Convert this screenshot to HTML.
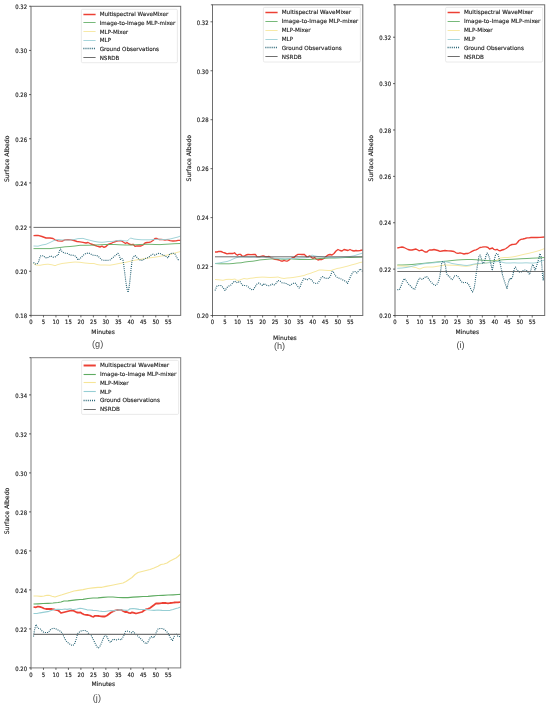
<!DOCTYPE html>
<html lang="en">
<head>
<meta charset="utf-8">
<title>Surface Albedo comparison (g)-(j)</title>
<style>
html,body{margin:0;padding:0;background:#fff;}
body{width:550px;height:707px;overflow:hidden;}
svg{display:block;}
</style>
</head>
<body>
<svg width="550" height="707" viewBox="0 0 550 707" text-rendering="geometricPrecision">
<rect width="550" height="707" fill="#ffffff"/>
<g>
<clipPath id="clipg"><rect x="31.0" y="6.3" width="149.7" height="309.1"/></clipPath>
<g clip-path="url(#clipg)" fill="none" stroke-linejoin="round" stroke-linecap="butt">
<path d="M33.5 235.6 L36.0 235.5 L38.0 235.4 L42.0 236.5 L46.0 238.0 L50.0 238.0 L53.0 238.5 L55.0 239.8 L58.0 240.8 L62.0 241.2 L65.0 239.8 L68.0 239.6 L71.0 239.8 L74.0 240.5 L77.0 241.5 L80.0 241.8 L83.0 242.3 L86.0 243.0 L88.0 242.5 L91.0 244.0 L94.0 245.0 L97.0 246.2 L100.0 247.0 L102.0 246.2 L104.0 247.3 L106.0 246.5 L108.0 244.5 L111.0 243.5 L114.0 242.0 L117.0 241.0 L120.0 240.7 L122.0 241.2 L124.0 242.5 L125.5 243.5 L127.0 242.5 L129.0 244.0 L131.0 244.6 L133.0 244.3 L135.0 246.3 L137.0 245.8 L139.0 246.0 L141.0 246.0 L143.0 245.0 L145.0 243.0 L147.0 242.5 L149.0 242.3 L151.0 241.8 L153.0 240.5 L155.0 238.5 L157.0 238.5 L159.0 239.5 L161.0 239.5 L163.0 239.7 L165.0 240.0 L167.0 239.7 L170.0 240.7 L173.0 241.0 L176.0 240.8 L178.0 240.3 L180.5 240.3" stroke="#ec4034" stroke-width="1.35"/>
<path d="M33.5 248.6 L40.0 248.6 L50.0 248.6 L55.0 248.0 L60.0 247.5 L65.0 246.8 L70.0 246.5 L75.0 246.0 L80.0 245.3 L85.0 245.3 L90.0 245.2 L95.0 245.0 L100.0 244.8 L105.0 244.5 L110.0 244.5 L115.0 244.5 L120.0 244.8 L125.0 245.0 L130.0 245.0 L135.0 244.8 L140.0 244.5 L145.0 244.3 L150.0 244.3 L155.0 244.5 L160.0 244.6 L165.0 244.3 L170.0 244.0 L175.0 243.7 L180.5 243.5" stroke="#5fac62" stroke-width="0.90"/>
<path d="M33.5 263.5 L36.0 265.0 L40.0 265.3 L44.0 264.5 L48.0 264.2 L52.0 264.8 L55.0 265.7 L58.0 264.5 L62.0 263.5 L66.0 263.0 L70.0 262.5 L75.0 262.0 L80.0 262.3 L85.0 263.0 L90.0 263.5 L94.0 263.5 L97.0 264.5 L100.0 265.0 L105.0 265.0 L110.0 265.2 L115.0 264.3 L120.0 263.3 L125.0 262.5 L130.0 261.3 L135.0 260.2 L140.0 259.4 L145.0 258.6 L150.0 257.8 L155.0 257.2 L160.0 256.3 L165.0 255.5 L170.0 254.5 L175.0 253.0 L180.5 251.5" stroke="#f6e597" stroke-width="0.90"/>
<path d="M33.5 246.0 L38.0 246.2 L42.0 245.0 L46.0 244.3 L50.0 242.5 L54.0 240.5 L58.0 239.5 L62.0 240.0 L66.0 240.0 L70.0 240.0 L74.0 239.6 L78.0 238.6 L83.0 238.4 L86.0 239.3 L90.0 240.3 L94.0 241.3 L98.0 242.0 L102.0 242.3 L105.0 242.0 L108.0 241.5 L112.0 241.5 L115.0 241.0 L118.0 240.5 L121.0 240.3 L124.0 240.8 L127.0 241.0 L129.0 239.5 L130.5 238.0 L134.0 239.0 L138.0 239.5 L142.0 239.8 L146.0 239.8 L150.0 239.8 L154.0 239.5 L158.0 239.3 L162.0 239.5 L166.0 239.5 L170.0 239.0 L174.0 238.0 L178.0 237.0 L180.5 236.0" stroke="#96ced4" stroke-width="0.90"/>
<path d="M33.5 262.5 L35.0 264.0 L37.0 264.0 L38.5 262.0 L40.0 257.0 L41.0 255.7 L43.5 255.7 L45.0 257.5 L47.0 258.0 L49.0 257.0 L51.0 255.8 L53.0 257.3 L55.0 257.0 L57.0 255.5 L58.0 255.5 L59.5 251.0 L60.5 249.0 L62.0 251.5 L64.0 253.0 L66.0 253.3 L68.0 253.5 L70.0 255.0 L72.0 255.2 L74.0 255.5 L76.0 256.5 L78.0 260.0 L80.0 258.5 L82.0 256.5 L84.0 254.5 L86.0 253.5 L88.5 253.0 L90.0 253.5 L92.0 255.0 L94.0 255.3 L96.0 255.5 L98.0 256.0 L100.0 258.0 L102.0 260.0 L104.0 260.3 L106.0 260.3 L108.0 260.3 L110.0 260.0 L113.0 257.5 L116.0 255.0 L118.0 253.3 L119.5 256.0 L120.5 259.5 L122.0 258.5 L123.0 260.0 L124.0 267.0 L125.0 275.0 L126.0 283.0 L127.0 289.0 L128.0 292.5 L129.0 288.0 L130.0 280.0 L131.0 270.0 L132.0 261.0 L133.0 257.5 L135.0 255.4 L137.0 257.5 L139.0 259.5 L141.0 260.5 L143.0 260.0 L145.0 258.5 L147.0 258.0 L149.0 257.0 L151.0 255.2 L153.0 254.2 L155.0 255.2 L157.0 254.0 L159.0 253.2 L161.0 253.8 L163.0 255.2 L165.0 255.8 L167.0 257.0 L168.0 258.0 L169.5 254.5 L171.0 253.5 L173.0 253.2 L175.0 254.0 L176.5 257.0 L178.0 259.5 L179.5 260.5" stroke="#1d5c6e" stroke-width="1.15" stroke-dasharray="0.95 1.15"/>
<path d="M33.5 227.4 L180.7 227.4" stroke="#4a4a4a" stroke-width="0.80"/>
</g>
<rect x="31.00" y="6.30" width="149.70" height="309.10" fill="none" stroke="#6e6e6e" stroke-width="1.00"/>
<path d="M31.00 315.40 h-2 M31.00 271.24 h-2 M31.00 227.08 h-2 M31.00 182.92 h-2 M31.00 138.76 h-2 M31.00 94.60 h-2 M31.00 50.44 h-2 M31.00 6.28 h-2 M31.00 315.40 v2 M43.47 315.40 v2 M55.95 315.40 v2 M68.42 315.40 v2 M80.90 315.40 v2 M93.38 315.40 v2 M105.85 315.40 v2 M118.32 315.40 v2 M130.80 315.40 v2 M143.27 315.40 v2 M155.75 315.40 v2 M168.22 315.40 v2" stroke="#2a2a2a" stroke-width="0.7" fill="none"/>
<g font-family="'DejaVu Sans','Liberation Sans',sans-serif" font-size="5.30" fill="#1e1e1e" stroke="#1e1e1e" stroke-width="0.14">
<text transform="translate(27.10 318.15) scale(1 1.13)" text-anchor="end">0.18</text>
<text transform="translate(27.10 273.99) scale(1 1.13)" text-anchor="end">0.20</text>
<text transform="translate(27.10 229.83) scale(1 1.13)" text-anchor="end">0.22</text>
<text transform="translate(27.10 185.67) scale(1 1.13)" text-anchor="end">0.24</text>
<text transform="translate(27.10 141.51) scale(1 1.13)" text-anchor="end">0.26</text>
<text transform="translate(27.10 97.35) scale(1 1.13)" text-anchor="end">0.28</text>
<text transform="translate(27.10 53.19) scale(1 1.13)" text-anchor="end">0.30</text>
<text transform="translate(27.10 9.03) scale(1 1.13)" text-anchor="end">0.32</text>
<text transform="translate(31.00 324.15) scale(1 1.13)" text-anchor="middle">0</text>
<text transform="translate(43.47 324.15) scale(1 1.13)" text-anchor="middle">5</text>
<text transform="translate(55.95 324.15) scale(1 1.13)" text-anchor="middle">10</text>
<text transform="translate(68.42 324.15) scale(1 1.13)" text-anchor="middle">15</text>
<text transform="translate(80.90 324.15) scale(1 1.13)" text-anchor="middle">20</text>
<text transform="translate(93.38 324.15) scale(1 1.13)" text-anchor="middle">25</text>
<text transform="translate(105.85 324.15) scale(1 1.13)" text-anchor="middle">30</text>
<text transform="translate(118.32 324.15) scale(1 1.13)" text-anchor="middle">35</text>
<text transform="translate(130.80 324.15) scale(1 1.13)" text-anchor="middle">40</text>
<text transform="translate(143.27 324.15) scale(1 1.13)" text-anchor="middle">45</text>
<text transform="translate(155.75 324.15) scale(1 1.13)" text-anchor="middle">50</text>
<text transform="translate(168.22 324.15) scale(1 1.13)" text-anchor="middle">55</text>
</g>
<g font-family="'DejaVu Sans','Liberation Sans',sans-serif" font-size="6.00" fill="#1e1e1e" stroke="#1e1e1e" stroke-width="0.14">
<text x="103.10" y="333.50" text-anchor="middle">Minutes</text>
<text transform="translate(8.60 158.80) rotate(-90)" text-anchor="middle" font-size="6.15">Surface Albedo</text>
</g>
<text x="97.60" y="347.20" text-anchor="middle" font-family="'Liberation Sans','DejaVu Sans',sans-serif" font-size="9.2" fill="#4a4a4a">(g)</text>
<rect x="81.40" y="9.30" width="96.00" height="53.40" rx="1.2" fill="#fff" fill-opacity="0.8" stroke="#d8d8d8" stroke-width="0.55"/>
<g font-family="'DejaVu Sans','Liberation Sans',sans-serif" font-size="5.60" fill="#1e1e1e" stroke="#1e1e1e" stroke-width="0.14">
<path d="M83.40 14.50 h12.2" stroke="#ec4034" stroke-width="1.50" fill="none"/>
<text x="99.70" y="16.30">Multispectral WaveMixer</text>
<path d="M83.40 22.50 h12.2" stroke="#5fac62" stroke-width="0.85" fill="none"/>
<text x="99.70" y="24.94">Image-to-Image MLP-mixer</text>
<path d="M83.40 31.50 h12.2" stroke="#f6e597" stroke-width="0.85" fill="none"/>
<text x="99.70" y="33.58">MLP-Mixer</text>
<path d="M83.40 40.50 h12.2" stroke="#96ced4" stroke-width="0.85" fill="none"/>
<text x="99.70" y="42.22">MLP</text>
<path d="M83.40 48.50 h12.2" stroke="#1d5c6e" stroke-width="1.30" stroke-dasharray="0.95 1.15" fill="none"/>
<text x="99.70" y="50.86">Ground Observations</text>
<path d="M83.40 57.50 h12.2" stroke="#4a4a4a" stroke-width="0.80" fill="none"/>
<text x="99.70" y="59.50">NSRDB</text>
</g>
</g>
<g>
<clipPath id="cliph"><rect x="212.5" y="4.8" width="150.3" height="310.7"/></clipPath>
<g clip-path="url(#cliph)" fill="none" stroke-linejoin="round" stroke-linecap="butt">
<path d="M215.0 252.0 L217.0 252.0 L219.0 251.3 L221.0 251.5 L223.0 252.3 L225.0 253.0 L227.0 253.8 L229.0 253.5 L231.0 253.3 L233.0 253.5 L234.5 252.8 L236.0 254.3 L237.5 255.3 L239.0 254.3 L240.5 254.3 L242.0 256.0 L244.0 256.3 L246.0 255.0 L248.0 254.5 L251.0 254.7 L254.0 254.5 L255.5 254.5 L257.0 256.8 L259.0 256.8 L261.0 256.3 L263.0 255.8 L265.0 256.5 L267.0 257.0 L269.0 256.5 L271.0 257.8 L273.0 258.5 L275.0 259.3 L277.0 259.5 L279.0 260.0 L281.0 261.0 L282.5 261.2 L284.0 260.3 L285.5 260.8 L287.0 261.2 L288.5 260.5 L290.0 259.0 L292.0 258.0 L294.0 257.5 L296.0 255.5 L298.0 254.3 L300.0 254.3 L302.0 254.5 L304.0 254.3 L305.5 255.5 L307.0 257.3 L308.5 256.5 L310.0 255.9 L311.5 257.5 L313.0 258.5 L314.5 257.5 L316.0 259.0 L318.0 260.0 L320.0 259.3 L322.0 259.5 L324.0 258.5 L326.0 256.5 L328.0 255.0 L330.0 254.5 L332.0 255.0 L334.0 253.5 L336.0 251.0 L338.0 249.5 L340.0 250.5 L342.0 251.0 L344.0 249.5 L346.0 250.0 L348.0 250.5 L350.0 249.5 L352.0 250.5 L354.0 251.0 L356.0 250.5 L358.0 250.8 L360.0 250.5 L362.8 250.0" stroke="#ec4034" stroke-width="1.35"/>
<path d="M215.0 263.5 L220.0 263.8 L225.0 263.8 L229.0 263.8 L233.0 263.5 L237.0 263.0 L241.0 262.8 L245.0 262.0 L249.0 261.5 L253.0 261.2 L257.0 260.5 L260.0 259.9 L265.0 259.5 L270.0 259.0 L275.0 258.8 L280.0 259.0 L285.0 259.3 L290.0 258.8 L295.0 259.2 L300.0 259.5 L305.0 259.5 L310.0 259.5 L315.0 259.0 L320.0 258.5 L325.0 258.3 L330.0 258.0 L335.0 258.0 L340.0 257.8 L345.0 257.5 L350.0 257.5 L355.0 257.3 L362.8 257.0" stroke="#5fac62" stroke-width="0.90"/>
<path d="M215.0 279.5 L219.0 279.8 L223.0 280.3 L226.0 279.5 L229.0 279.3 L232.0 279.5 L235.0 279.0 L237.0 280.3 L239.0 280.3 L241.0 279.5 L244.0 278.5 L247.0 279.0 L250.0 278.3 L253.0 278.0 L256.0 277.5 L259.0 277.3 L262.0 277.1 L265.0 277.2 L270.0 277.5 L275.0 277.3 L278.0 277.0 L281.0 278.0 L284.0 278.5 L287.0 278.0 L290.0 277.8 L293.0 277.5 L296.0 277.0 L300.0 276.3 L304.0 275.5 L307.0 274.3 L310.0 273.5 L313.0 272.3 L316.0 271.3 L319.0 270.0 L322.0 270.0 L325.0 270.3 L328.0 270.5 L331.0 270.5 L334.0 269.5 L337.0 268.5 L340.0 268.0 L344.0 267.0 L348.0 266.0 L352.0 264.8 L356.0 263.8 L360.0 262.5 L362.8 262.0" stroke="#f6e597" stroke-width="0.90"/>
<path d="M215.0 263.5 L219.0 263.0 L223.0 262.2 L227.0 261.5 L230.0 260.5 L233.0 259.0 L236.0 257.8 L239.0 257.0 L242.0 256.8 L246.0 257.0 L250.0 257.2 L254.0 257.0 L258.0 257.3 L262.0 257.0 L265.0 257.2 L270.0 257.8 L275.0 258.3 L280.0 258.5 L285.0 258.8 L290.0 258.5 L295.0 258.5 L300.0 258.0 L305.0 257.8 L308.0 257.5 L310.0 256.5 L312.0 255.0 L314.0 255.8 L318.0 256.5 L322.0 256.8 L326.0 257.5 L330.0 257.8 L335.0 257.5 L340.0 257.3 L345.0 257.0 L350.0 256.5 L354.0 255.8 L358.0 254.5 L362.8 253.0" stroke="#96ced4" stroke-width="0.90"/>
<path d="M215.0 290.5 L217.0 286.0 L219.0 285.5 L221.0 285.5 L223.0 287.5 L225.0 290.5 L227.0 287.5 L229.0 286.0 L231.0 285.0 L233.0 282.5 L234.5 281.0 L236.0 282.0 L237.5 283.0 L239.0 281.5 L240.0 281.5 L241.5 284.0 L243.0 285.5 L245.0 285.5 L247.0 286.0 L249.0 287.5 L251.0 289.5 L253.0 290.0 L255.0 287.0 L257.0 284.0 L259.0 283.0 L261.0 284.5 L262.5 285.5 L264.0 283.5 L266.0 285.0 L268.0 285.8 L270.0 285.5 L272.0 284.0 L274.0 285.0 L276.0 283.5 L278.0 280.5 L280.0 281.0 L282.0 282.8 L284.0 283.0 L286.0 283.5 L288.0 284.5 L290.0 285.5 L292.0 284.0 L294.0 283.0 L295.5 283.3 L297.0 285.5 L299.0 288.0 L300.0 287.5 L301.0 284.0 L302.5 281.0 L304.0 278.5 L305.5 279.0 L307.0 280.0 L309.0 278.5 L311.0 279.5 L312.0 280.5 L314.0 283.0 L316.0 283.5 L318.0 283.0 L320.0 280.0 L321.5 277.0 L323.0 276.5 L324.5 278.0 L327.0 278.5 L329.0 278.3 L330.5 276.0 L332.0 271.5 L333.0 271.3 L334.5 274.0 L336.0 276.5 L338.0 278.0 L340.0 278.3 L342.0 279.5 L344.0 280.5 L346.0 281.5 L347.5 283.5 L349.0 280.0 L351.0 275.5 L353.0 272.0 L355.0 271.5 L357.0 273.0 L358.5 271.0 L360.0 269.0 L362.0 270.5 L362.8 272.0" stroke="#1d5c6e" stroke-width="1.15" stroke-dasharray="0.95 1.15"/>
<path d="M215.0 256.8 L362.8 256.8" stroke="#4a4a4a" stroke-width="0.80"/>
</g>
<rect x="212.50" y="4.80" width="150.30" height="310.70" fill="none" stroke="#6e6e6e" stroke-width="1.00"/>
<path d="M212.50 315.50 h-2 M212.50 266.55 h-2 M212.50 217.60 h-2 M212.50 168.65 h-2 M212.50 119.70 h-2 M212.50 70.75 h-2 M212.50 21.80 h-2 M212.50 315.50 v2 M225.03 315.50 v2 M237.55 315.50 v2 M250.07 315.50 v2 M262.60 315.50 v2 M275.12 315.50 v2 M287.65 315.50 v2 M300.18 315.50 v2 M312.70 315.50 v2 M325.23 315.50 v2 M337.75 315.50 v2 M350.27 315.50 v2 M212.50 4.80 h-1.6" stroke="#2a2a2a" stroke-width="0.7" fill="none"/>
<g font-family="'DejaVu Sans','Liberation Sans',sans-serif" font-size="5.30" fill="#1e1e1e" stroke="#1e1e1e" stroke-width="0.14">
<text transform="translate(208.60 318.25) scale(1 1.13)" text-anchor="end">0.20</text>
<text transform="translate(208.60 269.30) scale(1 1.13)" text-anchor="end">0.22</text>
<text transform="translate(208.60 220.35) scale(1 1.13)" text-anchor="end">0.24</text>
<text transform="translate(208.60 171.40) scale(1 1.13)" text-anchor="end">0.26</text>
<text transform="translate(208.60 122.45) scale(1 1.13)" text-anchor="end">0.28</text>
<text transform="translate(208.60 73.50) scale(1 1.13)" text-anchor="end">0.30</text>
<text transform="translate(208.60 24.55) scale(1 1.13)" text-anchor="end">0.32</text>
<text transform="translate(212.50 324.25) scale(1 1.13)" text-anchor="middle">0</text>
<text transform="translate(225.03 324.25) scale(1 1.13)" text-anchor="middle">5</text>
<text transform="translate(237.55 324.25) scale(1 1.13)" text-anchor="middle">10</text>
<text transform="translate(250.07 324.25) scale(1 1.13)" text-anchor="middle">15</text>
<text transform="translate(262.60 324.25) scale(1 1.13)" text-anchor="middle">20</text>
<text transform="translate(275.12 324.25) scale(1 1.13)" text-anchor="middle">25</text>
<text transform="translate(287.65 324.25) scale(1 1.13)" text-anchor="middle">30</text>
<text transform="translate(300.18 324.25) scale(1 1.13)" text-anchor="middle">35</text>
<text transform="translate(312.70 324.25) scale(1 1.13)" text-anchor="middle">40</text>
<text transform="translate(325.23 324.25) scale(1 1.13)" text-anchor="middle">45</text>
<text transform="translate(337.75 324.25) scale(1 1.13)" text-anchor="middle">50</text>
<text transform="translate(350.27 324.25) scale(1 1.13)" text-anchor="middle">55</text>
</g>
<g font-family="'DejaVu Sans','Liberation Sans',sans-serif" font-size="6.00" fill="#1e1e1e" stroke="#1e1e1e" stroke-width="0.14">
<text x="284.90" y="339.80" text-anchor="middle">Minutes</text>
<text transform="translate(190.50 158.20) rotate(-90)" text-anchor="middle" font-size="6.15">Surface Albedo</text>
</g>
<text x="279.50" y="348.50" text-anchor="middle" font-family="'Liberation Sans','DejaVu Sans',sans-serif" font-size="9.2" fill="#4a4a4a">(h)</text>
<rect x="263.40" y="7.40" width="97.00" height="54.60" rx="1.2" fill="#fff" fill-opacity="0.8" stroke="#d8d8d8" stroke-width="0.55"/>
<g font-family="'DejaVu Sans','Liberation Sans',sans-serif" font-size="5.66" fill="#1e1e1e" stroke="#1e1e1e" stroke-width="0.14">
<path d="M265.40 12.50 h12.2" stroke="#ec4034" stroke-width="1.50" fill="none"/>
<text x="281.70" y="14.40">Multispectral WaveMixer</text>
<path d="M265.40 21.50 h12.2" stroke="#5fac62" stroke-width="0.85" fill="none"/>
<text x="281.70" y="23.28">Image-to-Image MLP-mixer</text>
<path d="M265.40 30.50 h12.2" stroke="#f6e597" stroke-width="0.85" fill="none"/>
<text x="281.70" y="32.16">MLP-Mixer</text>
<path d="M265.40 39.50 h12.2" stroke="#96ced4" stroke-width="0.85" fill="none"/>
<text x="281.70" y="41.04">MLP</text>
<path d="M265.40 47.50 h12.2" stroke="#1d5c6e" stroke-width="1.30" stroke-dasharray="0.95 1.15" fill="none"/>
<text x="281.70" y="49.92">Ground Observations</text>
<path d="M265.40 56.50 h12.2" stroke="#4a4a4a" stroke-width="0.80" fill="none"/>
<text x="281.70" y="58.80">NSRDB</text>
</g>
</g>
<g>
<clipPath id="clipi"><rect x="395.0" y="4.8" width="149.7" height="310.7"/></clipPath>
<g clip-path="url(#clipi)" fill="none" stroke-linejoin="round" stroke-linecap="butt">
<path d="M397.3 248.0 L400.0 247.3 L402.0 247.0 L404.0 247.5 L406.0 248.5 L408.0 249.5 L410.0 250.0 L412.0 250.0 L414.0 249.5 L416.0 249.0 L417.5 249.8 L419.0 250.8 L420.5 250.3 L422.0 250.0 L423.5 251.0 L425.0 252.0 L427.0 252.0 L428.5 250.5 L430.0 249.8 L432.0 250.0 L434.0 249.5 L436.0 250.0 L438.0 250.5 L440.0 251.3 L442.0 251.0 L445.0 250.5 L448.0 250.8 L451.0 251.0 L454.0 251.5 L456.0 252.8 L458.0 253.3 L460.0 252.8 L462.0 253.3 L464.0 254.0 L466.0 253.5 L468.0 253.5 L470.0 252.5 L472.0 251.3 L474.0 250.3 L476.0 249.8 L478.0 248.8 L480.0 247.5 L482.0 247.2 L484.0 246.8 L486.0 246.8 L488.0 247.5 L489.5 249.0 L491.0 248.5 L492.5 248.0 L494.0 249.4 L495.5 249.8 L497.0 249.3 L498.5 250.3 L500.0 250.8 L502.0 250.0 L504.0 249.5 L506.0 248.5 L508.0 247.0 L510.0 245.3 L512.0 244.5 L514.0 244.3 L516.0 244.0 L517.5 242.5 L519.0 240.5 L521.0 239.3 L523.0 239.0 L525.0 238.5 L527.0 237.8 L529.0 237.8 L531.0 237.5 L533.0 237.3 L535.0 237.5 L537.0 237.5 L540.0 237.3 L544.7 237.0" stroke="#ec4034" stroke-width="1.35"/>
<path d="M397.3 265.0 L402.0 265.0 L407.0 264.8 L412.0 264.5 L417.0 264.0 L422.0 263.5 L427.0 263.0 L432.0 262.5 L437.0 262.0 L442.0 261.5 L447.0 261.1 L452.0 260.5 L457.0 260.0 L462.0 259.7 L467.0 259.5 L472.0 259.5 L477.0 259.8 L482.0 260.2 L487.0 260.5 L492.0 260.8 L497.0 260.4 L502.0 259.8 L507.0 259.5 L512.0 259.3 L517.0 259.0 L522.0 258.7 L527.0 258.5 L532.0 258.2 L537.0 258.0 L544.7 257.5" stroke="#5fac62" stroke-width="0.90"/>
<path d="M397.3 265.8 L402.0 266.0 L407.0 266.3 L411.0 266.5 L414.0 267.3 L416.0 267.5 L418.0 268.5 L420.0 269.0 L422.0 268.0 L424.0 267.3 L427.0 267.0 L430.0 267.0 L433.0 267.0 L436.0 266.5 L439.0 266.0 L442.0 265.5 L446.0 265.0 L450.0 265.2 L454.0 265.3 L458.0 265.5 L462.0 266.0 L466.0 266.3 L470.0 265.8 L474.0 264.5 L478.0 264.0 L482.0 263.5 L486.0 263.0 L490.0 262.5 L494.0 261.6 L497.0 260.8 L500.0 258.0 L504.0 257.5 L508.0 257.5 L512.0 257.0 L516.0 256.3 L520.0 255.3 L524.0 254.3 L528.0 253.5 L532.0 252.5 L536.0 251.5 L540.0 250.3 L544.7 248.5" stroke="#f6e597" stroke-width="0.90"/>
<path d="M397.3 268.3 L402.0 268.0 L406.0 267.5 L410.0 266.8 L414.0 265.8 L418.0 264.8 L422.0 264.0 L426.0 263.5 L430.0 263.0 L434.0 262.8 L438.0 262.3 L442.0 261.7 L446.0 261.8 L449.0 262.5 L452.0 263.5 L455.0 264.0 L458.0 264.5 L461.0 264.8 L464.0 265.3 L467.0 265.5 L470.0 265.0 L473.0 264.3 L476.0 263.8 L479.0 263.5 L482.0 263.3 L486.0 263.0 L490.0 262.5 L494.0 262.0 L497.0 261.5 L500.0 261.5 L503.0 262.5 L506.0 263.0 L510.0 263.0 L514.0 262.8 L518.0 263.0 L522.0 263.0 L526.0 262.8 L530.0 263.0 L534.0 263.0 L537.0 262.5 L540.0 261.5 L544.7 260.0" stroke="#96ced4" stroke-width="0.90"/>
<path d="M397.3 289.8 L399.5 289.5 L401.0 286.0 L403.0 281.0 L404.5 278.5 L406.0 280.5 L408.0 283.5 L410.0 285.5 L412.0 287.5 L414.0 289.5 L415.0 289.0 L416.5 285.0 L418.0 281.0 L419.5 278.0 L421.0 278.8 L422.5 279.5 L424.0 278.0 L426.0 276.5 L427.5 277.0 L429.0 279.5 L431.0 282.0 L433.0 284.0 L435.0 285.5 L436.5 285.0 L438.0 282.5 L439.5 278.0 L440.5 272.0 L441.5 264.0 L442.5 261.5 L443.5 262.0 L444.5 262.5 L445.5 266.0 L446.5 273.0 L447.5 275.5 L449.0 276.0 L450.5 278.0 L452.0 280.0 L453.0 279.0 L454.5 276.0 L456.0 275.5 L457.5 276.0 L459.0 278.0 L461.0 281.0 L462.5 282.8 L464.0 282.5 L466.0 282.5 L468.0 283.5 L469.5 286.0 L471.0 289.5 L472.5 292.0 L474.0 289.0 L475.0 283.0 L476.0 275.0 L477.0 268.0 L478.0 262.0 L479.0 256.5 L480.0 255.0 L481.0 257.5 L482.5 263.0 L483.5 263.5 L485.0 260.0 L486.0 255.5 L487.0 253.0 L488.0 254.0 L489.5 258.0 L490.5 262.0 L491.5 267.0 L492.3 270.5 L493.3 265.0 L494.5 259.0 L495.5 255.0 L496.5 253.5 L497.5 253.5 L498.5 256.0 L499.5 260.0 L500.5 265.0 L501.5 270.0 L502.5 275.0 L504.0 280.0 L505.5 284.5 L507.0 288.5 L508.0 284.0 L509.0 280.5 L510.0 278.5 L511.0 279.5 L512.5 277.0 L513.5 272.0 L514.5 268.5 L515.5 267.0 L516.5 269.0 L518.0 271.0 L520.0 272.5 L522.0 271.5 L524.0 270.0 L526.0 270.0 L528.0 272.0 L529.5 274.5 L531.0 270.0 L532.0 265.5 L533.0 264.5 L534.0 267.0 L535.0 270.0 L536.0 268.0 L537.5 263.0 L539.0 258.0 L540.0 253.5 L541.0 256.0 L541.8 265.0 L542.5 275.0 L543.2 280.0 L544.0 273.0 L544.7 270.0" stroke="#1d5c6e" stroke-width="1.15" stroke-dasharray="0.95 1.15"/>
<path d="M397.3 271.5 L544.7 271.5" stroke="#4a4a4a" stroke-width="0.80"/>
</g>
<rect x="395.00" y="4.80" width="149.70" height="310.70" fill="none" stroke="#6e6e6e" stroke-width="1.00"/>
<path d="M395.00 315.50 h-2 M395.00 269.12 h-2 M395.00 222.74 h-2 M395.00 176.36 h-2 M395.00 129.98 h-2 M395.00 83.60 h-2 M395.00 37.22 h-2 M395.00 315.50 v2 M407.48 315.50 v2 M419.95 315.50 v2 M432.43 315.50 v2 M444.90 315.50 v2 M457.38 315.50 v2 M469.85 315.50 v2 M482.33 315.50 v2 M494.80 315.50 v2 M507.28 315.50 v2 M519.75 315.50 v2 M532.23 315.50 v2 M395.00 4.80 h-1.6" stroke="#2a2a2a" stroke-width="0.7" fill="none"/>
<g font-family="'DejaVu Sans','Liberation Sans',sans-serif" font-size="5.30" fill="#1e1e1e" stroke="#1e1e1e" stroke-width="0.14">
<text transform="translate(391.10 318.25) scale(1 1.13)" text-anchor="end">0.20</text>
<text transform="translate(391.10 271.87) scale(1 1.13)" text-anchor="end">0.22</text>
<text transform="translate(391.10 225.49) scale(1 1.13)" text-anchor="end">0.24</text>
<text transform="translate(391.10 179.11) scale(1 1.13)" text-anchor="end">0.26</text>
<text transform="translate(391.10 132.73) scale(1 1.13)" text-anchor="end">0.28</text>
<text transform="translate(391.10 86.35) scale(1 1.13)" text-anchor="end">0.30</text>
<text transform="translate(391.10 39.97) scale(1 1.13)" text-anchor="end">0.32</text>
<text transform="translate(395.00 324.25) scale(1 1.13)" text-anchor="middle">0</text>
<text transform="translate(407.48 324.25) scale(1 1.13)" text-anchor="middle">5</text>
<text transform="translate(419.95 324.25) scale(1 1.13)" text-anchor="middle">10</text>
<text transform="translate(432.43 324.25) scale(1 1.13)" text-anchor="middle">15</text>
<text transform="translate(444.90 324.25) scale(1 1.13)" text-anchor="middle">20</text>
<text transform="translate(457.38 324.25) scale(1 1.13)" text-anchor="middle">25</text>
<text transform="translate(469.85 324.25) scale(1 1.13)" text-anchor="middle">30</text>
<text transform="translate(482.33 324.25) scale(1 1.13)" text-anchor="middle">35</text>
<text transform="translate(494.80 324.25) scale(1 1.13)" text-anchor="middle">40</text>
<text transform="translate(507.28 324.25) scale(1 1.13)" text-anchor="middle">45</text>
<text transform="translate(519.75 324.25) scale(1 1.13)" text-anchor="middle">50</text>
<text transform="translate(532.23 324.25) scale(1 1.13)" text-anchor="middle">55</text>
</g>
<g font-family="'DejaVu Sans','Liberation Sans',sans-serif" font-size="6.00" fill="#1e1e1e" stroke="#1e1e1e" stroke-width="0.14">
<text x="467.25" y="333.50" text-anchor="middle">Minutes</text>
<text transform="translate(372.50 158.20) rotate(-90)" text-anchor="middle" font-size="6.15">Surface Albedo</text>
</g>
<text x="460.50" y="348.00" text-anchor="middle" font-family="'Liberation Sans','DejaVu Sans',sans-serif" font-size="9.2" fill="#4a4a4a">(i)</text>
<rect x="445.60" y="7.40" width="97.00" height="54.60" rx="1.2" fill="#fff" fill-opacity="0.8" stroke="#d8d8d8" stroke-width="0.55"/>
<g font-family="'DejaVu Sans','Liberation Sans',sans-serif" font-size="5.66" fill="#1e1e1e" stroke="#1e1e1e" stroke-width="0.14">
<path d="M447.60 12.50 h12.2" stroke="#ec4034" stroke-width="1.50" fill="none"/>
<text x="463.90" y="14.40">Multispectral WaveMixer</text>
<path d="M447.60 21.50 h12.2" stroke="#5fac62" stroke-width="0.85" fill="none"/>
<text x="463.90" y="23.28">Image-to-Image MLP-mixer</text>
<path d="M447.60 30.50 h12.2" stroke="#f6e597" stroke-width="0.85" fill="none"/>
<text x="463.90" y="32.16">MLP-Mixer</text>
<path d="M447.60 39.50 h12.2" stroke="#96ced4" stroke-width="0.85" fill="none"/>
<text x="463.90" y="41.04">MLP</text>
<path d="M447.60 47.50 h12.2" stroke="#1d5c6e" stroke-width="1.30" stroke-dasharray="0.95 1.15" fill="none"/>
<text x="463.90" y="49.92">Ground Observations</text>
<path d="M447.60 56.50 h12.2" stroke="#4a4a4a" stroke-width="0.80" fill="none"/>
<text x="463.90" y="58.80">NSRDB</text>
</g>
</g>
<g>
<clipPath id="clipj"><rect x="31.0" y="357.7" width="149.7" height="310.2"/></clipPath>
<g clip-path="url(#clipj)" fill="none" stroke-linejoin="round" stroke-linecap="butt">
<path d="M33.5 607.0 L36.0 607.3 L38.0 606.5 L40.0 606.8 L42.0 607.5 L44.0 608.5 L46.0 609.0 L48.0 609.0 L50.0 609.0 L52.0 609.0 L54.0 609.3 L56.0 610.0 L58.0 610.3 L59.5 611.5 L61.0 613.0 L63.0 612.5 L65.0 612.0 L67.0 611.5 L69.0 611.0 L71.0 610.5 L73.0 610.5 L75.0 611.5 L77.0 612.5 L79.0 612.6 L80.5 612.4 L82.0 613.5 L84.0 614.5 L86.0 614.8 L88.0 615.0 L90.0 615.5 L92.0 616.5 L93.5 616.8 L95.0 615.8 L97.0 615.8 L99.0 616.0 L101.0 616.3 L103.0 616.5 L105.0 616.5 L107.0 615.5 L109.0 614.0 L111.0 612.5 L113.0 611.5 L115.0 610.5 L117.0 610.0 L119.0 609.8 L121.0 609.8 L123.0 611.0 L125.0 612.0 L127.0 612.0 L129.0 613.0 L130.5 613.2 L132.0 612.3 L134.0 612.8 L136.0 613.5 L138.0 613.0 L140.0 612.5 L142.0 612.0 L144.0 610.5 L146.0 609.3 L148.0 608.8 L150.0 608.0 L152.0 606.5 L154.0 605.0 L156.0 603.3 L158.0 603.5 L160.0 603.3 L162.0 603.0 L164.0 602.8 L166.0 603.0 L168.0 603.3 L170.0 603.0 L172.0 602.8 L174.0 602.5 L176.0 602.3 L178.0 602.3 L180.7 602.0" stroke="#ec4034" stroke-width="1.76"/>
<path d="M33.5 604.0 L38.0 603.8 L43.0 603.5 L48.0 603.3 L53.0 603.0 L58.0 602.5 L61.0 602.0 L64.0 601.0 L68.0 600.8 L72.0 600.3 L76.0 599.8 L80.0 599.5 L83.0 599.4 L88.0 598.5 L93.0 598.0 L98.0 597.8 L103.0 597.3 L108.0 597.0 L113.0 597.0 L118.0 597.5 L123.0 597.7 L128.0 597.7 L133.0 597.2 L138.0 596.8 L143.0 596.5 L148.0 596.3 L153.0 595.8 L158.0 595.5 L163.0 595.3 L168.0 595.0 L173.0 594.8 L178.0 594.5 L180.7 594.3" stroke="#5fac62" stroke-width="1.17"/>
<path d="M33.5 596.0 L37.0 596.0 L41.0 596.3 L44.0 596.0 L47.0 595.3 L49.0 595.3 L52.0 596.3 L55.0 597.0 L58.0 596.0 L62.0 594.8 L66.0 593.5 L70.0 592.3 L74.0 591.0 L78.0 590.3 L83.0 589.6 L88.0 588.5 L93.0 587.8 L98.0 587.3 L102.0 587.3 L106.0 586.4 L112.0 585.2 L118.0 584.0 L123.0 583.0 L126.0 581.5 L129.0 579.5 L132.0 577.5 L135.0 574.5 L138.0 572.5 L142.0 571.5 L146.0 570.5 L150.0 569.5 L154.0 568.0 L158.0 566.3 L161.0 564.5 L164.0 564.0 L167.0 563.0 L170.0 561.0 L173.0 559.5 L176.0 558.0 L178.0 556.5 L180.7 554.0" stroke="#f6e597" stroke-width="1.17"/>
<path d="M33.5 613.5 L37.0 613.5 L40.0 612.8 L43.0 612.3 L46.0 611.8 L49.0 611.3 L52.0 610.3 L55.0 609.5 L58.0 609.3 L62.0 609.5 L65.0 609.0 L67.0 609.3 L70.0 608.8 L72.0 609.3 L74.0 609.5 L77.0 609.0 L80.0 608.3 L82.0 608.5 L84.0 609.0 L87.0 609.8 L90.0 610.0 L93.0 610.3 L96.0 610.5 L99.0 611.0 L102.0 611.3 L105.0 611.5 L108.0 611.0 L111.0 610.5 L114.0 610.8 L117.0 610.0 L120.0 609.8 L123.0 610.0 L126.0 610.3 L128.5 610.0 L130.0 608.8 L133.0 608.5 L136.0 608.8 L139.0 609.3 L142.0 609.5 L146.0 609.5 L150.0 610.0 L154.0 610.3 L158.0 610.0 L162.0 610.3 L166.0 610.5 L170.0 610.3 L173.0 609.5 L176.0 608.5 L178.0 608.0 L180.7 607.0" stroke="#96ced4" stroke-width="1.17"/>
<path d="M33.5 636.5 L34.5 630.0 L36.0 624.5 L37.5 628.0 L39.0 628.5 L40.5 629.0 L42.0 631.0 L44.0 632.5 L46.0 632.5 L48.0 632.5 L49.5 631.0 L51.0 629.0 L53.0 628.3 L55.0 628.5 L57.0 629.5 L59.0 630.5 L61.0 631.5 L62.5 634.0 L64.0 637.0 L65.5 640.0 L67.0 642.0 L69.0 643.5 L71.0 645.0 L73.0 645.5 L74.5 644.0 L76.0 640.0 L77.0 636.0 L78.0 633.0 L79.5 632.0 L81.0 631.0 L83.0 630.5 L85.0 630.5 L87.0 631.5 L89.0 634.0 L91.0 635.0 L92.5 638.0 L94.0 641.0 L95.5 644.0 L97.0 647.0 L98.5 648.0 L100.0 646.0 L101.5 643.0 L103.0 639.0 L104.5 636.0 L106.0 635.0 L107.5 638.0 L109.0 641.0 L110.5 642.5 L112.0 640.5 L113.5 639.0 L115.0 640.0 L117.0 639.8 L119.0 639.0 L121.0 640.0 L122.5 638.0 L124.0 635.0 L125.5 631.5 L127.0 631.0 L129.0 631.5 L131.5 632.8 L133.0 631.5 L134.5 633.0 L136.0 634.5 L138.0 636.3 L140.0 638.0 L142.0 640.0 L144.0 642.0 L146.0 643.8 L147.5 643.0 L149.0 640.0 L150.5 637.0 L152.0 636.5 L153.5 638.0 L155.0 635.5 L156.5 632.0 L158.0 629.0 L160.0 628.5 L162.0 628.5 L164.0 629.3 L166.0 631.0 L168.0 633.0 L169.5 636.0 L171.0 639.0 L172.5 640.5 L174.0 637.0 L175.5 633.5 L176.5 634.5 L178.0 636.5 L179.5 636.5 L180.7 637.0" stroke="#1d5c6e" stroke-width="1.15" stroke-dasharray="0.95 1.15"/>
<path d="M33.5 634.4 L180.7 634.4" stroke="#747474" stroke-width="1.30"/>
</g>
<rect x="31.00" y="357.70" width="149.70" height="310.20" fill="none" stroke="#7c7c7c" stroke-width="1.00"/>
<path d="M31.00 667.90 h-2 M31.00 628.90 h-2 M31.00 589.90 h-2 M31.00 550.90 h-2 M31.00 511.90 h-2 M31.00 472.90 h-2 M31.00 433.90 h-2 M31.00 394.90 h-2 M31.00 667.90 v2 M43.47 667.90 v2 M55.95 667.90 v2 M68.42 667.90 v2 M80.90 667.90 v2 M93.38 667.90 v2 M105.85 667.90 v2 M118.32 667.90 v2 M130.80 667.90 v2 M143.27 667.90 v2 M155.75 667.90 v2 M168.22 667.90 v2 M31.00 357.70 h-1.6" stroke="#2a2a2a" stroke-width="0.7" fill="none"/>
<g font-family="'DejaVu Sans','Liberation Sans',sans-serif" font-size="5.30" fill="#1e1e1e" stroke="#1e1e1e" stroke-width="0.14">
<text transform="translate(27.10 670.65) scale(1 1.13)" text-anchor="end">0.20</text>
<text transform="translate(27.10 631.65) scale(1 1.13)" text-anchor="end">0.22</text>
<text transform="translate(27.10 592.65) scale(1 1.13)" text-anchor="end">0.24</text>
<text transform="translate(27.10 553.65) scale(1 1.13)" text-anchor="end">0.26</text>
<text transform="translate(27.10 514.65) scale(1 1.13)" text-anchor="end">0.28</text>
<text transform="translate(27.10 475.65) scale(1 1.13)" text-anchor="end">0.30</text>
<text transform="translate(27.10 436.65) scale(1 1.13)" text-anchor="end">0.32</text>
<text transform="translate(27.10 397.65) scale(1 1.13)" text-anchor="end">0.34</text>
<text transform="translate(31.00 676.65) scale(1 1.13)" text-anchor="middle">0</text>
<text transform="translate(43.47 676.65) scale(1 1.13)" text-anchor="middle">5</text>
<text transform="translate(55.95 676.65) scale(1 1.13)" text-anchor="middle">10</text>
<text transform="translate(68.42 676.65) scale(1 1.13)" text-anchor="middle">15</text>
<text transform="translate(80.90 676.65) scale(1 1.13)" text-anchor="middle">20</text>
<text transform="translate(93.38 676.65) scale(1 1.13)" text-anchor="middle">25</text>
<text transform="translate(105.85 676.65) scale(1 1.13)" text-anchor="middle">30</text>
<text transform="translate(118.32 676.65) scale(1 1.13)" text-anchor="middle">35</text>
<text transform="translate(130.80 676.65) scale(1 1.13)" text-anchor="middle">40</text>
<text transform="translate(143.27 676.65) scale(1 1.13)" text-anchor="middle">45</text>
<text transform="translate(155.75 676.65) scale(1 1.13)" text-anchor="middle">50</text>
<text transform="translate(168.22 676.65) scale(1 1.13)" text-anchor="middle">55</text>
</g>
<g font-family="'DejaVu Sans','Liberation Sans',sans-serif" font-size="6.00" fill="#1e1e1e" stroke="#1e1e1e" stroke-width="0.14">
<text x="103.30" y="686.20" text-anchor="middle">Minutes</text>
<text transform="translate(8.60 511.00) rotate(-90)" text-anchor="middle" font-size="6.15">Surface Albedo</text>
</g>
<text x="96.90" y="700.90" text-anchor="middle" font-family="'Liberation Sans','DejaVu Sans',sans-serif" font-size="9.2" fill="#4a4a4a">(j)</text>
<rect x="81.60" y="360.40" width="97.00" height="54.00" rx="1.2" fill="#fff" fill-opacity="0.8" stroke="#d8d8d8" stroke-width="0.55"/>
<g font-family="'DejaVu Sans','Liberation Sans',sans-serif" font-size="5.66" fill="#1e1e1e" stroke="#1e1e1e" stroke-width="0.14">
<path d="M83.60 365.50 h12.2" stroke="#ec4034" stroke-width="1.95" fill="none"/>
<text x="99.90" y="367.40">Multispectral WaveMixer</text>
<path d="M83.60 374.50 h12.2" stroke="#5fac62" stroke-width="1.10" fill="none"/>
<text x="99.90" y="376.16">Image-to-Image MLP-mixer</text>
<path d="M83.60 382.50 h12.2" stroke="#f6e597" stroke-width="1.10" fill="none"/>
<text x="99.90" y="384.92">MLP-Mixer</text>
<path d="M83.60 391.50 h12.2" stroke="#96ced4" stroke-width="1.10" fill="none"/>
<text x="99.90" y="393.68">MLP</text>
<path d="M83.60 400.50 h12.2" stroke="#1d5c6e" stroke-width="1.30" stroke-dasharray="0.95 1.15" fill="none"/>
<text x="99.90" y="402.44">Ground Observations</text>
<path d="M83.60 409.50 h12.2" stroke="#4a4a4a" stroke-width="0.80" fill="none"/>
<text x="99.90" y="411.20">NSRDB</text>
</g>
</g>
</svg>
</body>
</html>
